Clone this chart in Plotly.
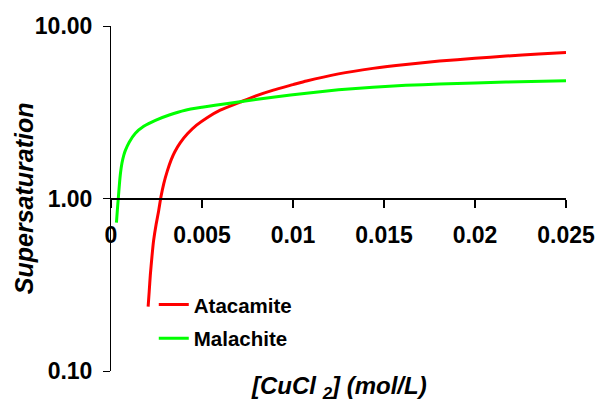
import plotly.graph_objects as go

# Data
atacamite_x = [0.00204, 0.00210, 0.00216, 0.00225, 0.00234, 0.00248, 0.00262, 0.00275,
               0.00290, 0.00310, 0.00330, 0.00350, 0.00380, 0.00420, 0.00470, 0.00530,
               0.00600, 0.00709, 0.00800, 0.00892, 0.01000, 0.01074, 0.01250, 0.01439,
               0.01620, 0.01805, 0.0200, 0.0217, 0.0235, 0.025]
atacamite_y = [0.236, 0.29, 0.36, 0.46, 0.57, 0.71, 0.85, 1.03,
               1.22, 1.45, 1.67, 1.86, 2.10, 2.37, 2.66, 2.95,
               3.25, 3.62, 3.95, 4.25, 4.57, 4.80, 5.28, 5.68,
               5.99, 6.26, 6.50, 6.69, 6.87, 7.03]

malachite_x = [0.0003, 0.00035, 0.0004, 0.00046, 0.00052, 0.0006, 0.0007, 0.00079,
               0.0010, 0.00134, 0.0018, 0.00244, 0.0032, 0.00408, 0.0050, 0.00572,
               0.00709, 0.0090, 0.01074, 0.0125, 0.01439, 0.0162, 0.01805, 0.0200,
               0.0217, 0.025]
malachite_y = [0.725, 0.86, 1.0, 1.2, 1.40, 1.60, 1.78, 1.90,
               2.12, 2.39, 2.62, 2.84, 3.05, 3.25, 3.38, 3.47,
               3.64, 3.88, 4.08, 4.27, 4.42, 4.53, 4.61, 4.68,
               4.73, 4.81]

x_ticks = [0, 0.005, 0.01, 0.015, 0.02, 0.025]
x_ticktext = ["0", "0.005", "0.01", "0.015", "0.02", "0.025"]
y_ticks = [0.1, 1, 10]
y_ticktext = ["0.10", "1.00", "10.00"]

FONT = "Arial, Liberation Sans, sans-serif"

fig = go.Figure()
fig.add_trace(go.Scatter(x=atacamite_x, y=atacamite_y, mode="lines", name="Atacamite",
                         line=dict(color="#ff0000", width=3, shape="spline", smoothing=0.5),
                         legendgroup="a"))
fig.add_trace(go.Scatter(x=malachite_x, y=malachite_y, mode="lines", name="Malachite",
                         line=dict(color="#00ff00", width=3, shape="spline", smoothing=0.5),
                         legendgroup="m"))

fig.update_layout(
    width=600, height=406,
    margin=dict(l=111, r=34, t=26, b=35, autoexpand=False),
    paper_bgcolor="white", plot_bgcolor="white",
    font=dict(family=FONT, color="black"),
    showlegend=True,
    legend=dict(x=0.094, y=0.25, xanchor="left", yanchor="top",
                font=dict(size=20.5, family=FONT, color="black", weight="bold"),
                bgcolor="rgba(0,0,0,0)", tracegroupgap=4),
    xaxis=dict(
        range=[0, 0.025], anchor="free", position=0.5, automargin=False,
        showline=True, linecolor="black", linewidth=2,
        ticks="outside", ticklen=8, tickwidth=2, tickcolor="black",
        tickvals=x_ticks, ticktext=x_ticktext,
        tickfont=dict(size=23, family=FONT, weight="bold"),
        ticklabelstandoff=8,
        showgrid=False, zeroline=False,
    ),
    yaxis=dict(
        type="log", range=[-1, 1], automargin=False,
        showline=True, linecolor="black", linewidth=1,
        ticks="outside", ticklen=7, tickwidth=1, tickcolor="black",
        tickvals=y_ticks, ticktext=y_ticktext,
        tickfont=dict(size=23, family=FONT, weight="bold"),
        ticklabelstandoff=6,
        showgrid=True, gridcolor="#d0d0d0", gridwidth=1,
        zeroline=False,
    ),
)

fig.add_annotation(text="<i><b>[CuCl <sub>2</sub>] (mol/L)</b></i>", xref="paper", yref="paper",
                   x=0.5, y=-0.049, xanchor="center", yanchor="middle", showarrow=False,
                   font=dict(size=24, family=FONT))
fig.add_annotation(text="<i><b>Supersaturation</b></i>", xref="paper", yref="paper",
                   x=-0.192, y=0.5, xanchor="center", yanchor="middle", showarrow=False,
                   textangle=-90, font=dict(size=25, family=FONT))

fig.write_html("out.html")
